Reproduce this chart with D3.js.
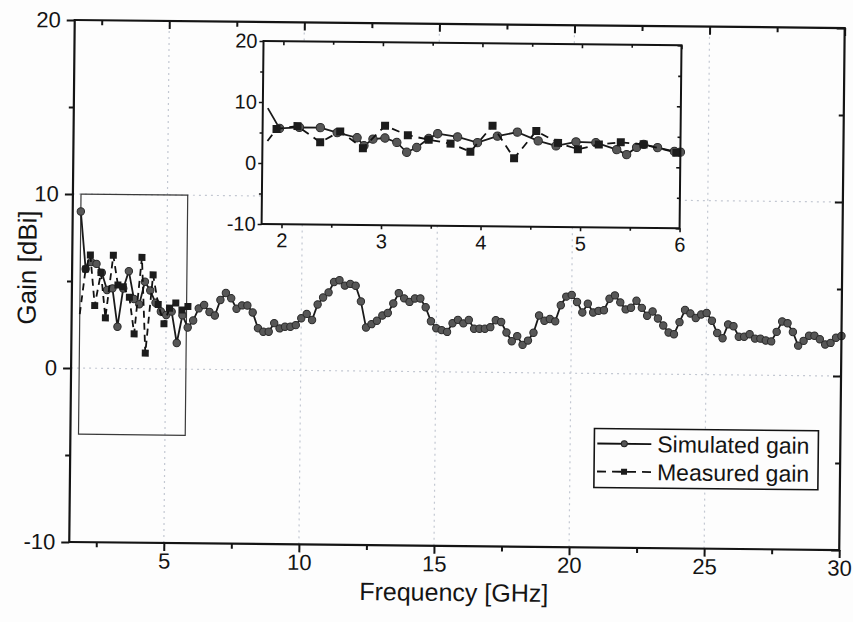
<!DOCTYPE html>
<html>
<head>
<meta charset="utf-8">
<script src="https://cdn.jsdelivr.net/npm/d3@7"></script>
<style>
body { margin: 0; background: #fdfdfd; }
svg { display: block; font-family: "Liberation Sans", Arial, sans-serif; }
</style>
</head>
<body>
<svg id="chart" width="853" height="622"></svg>
<script>
// Simulated gain, sampled every 0.2 GHz from 1.8 GHz
var simStart = 1.8
var simStep = 0.2
var simGain = [
    9.0, 5.7, 6.1, 6.0, 5.5, 4.5, 4.6, 2.4, 4.6, 5.6,
    4.0, 3.7, 5.0, 4.5, 3.8, 3.3, 3.1, 3.3, 1.5, 3.1,
    2.4, 2.8, 3.5, 3.7, 3.3, 3.1, 4.0, 4.4, 4.1, 3.5,
    3.7, 3.7, 3.3, 2.4, 2.2, 2.2, 2.7, 2.4, 2.5, 2.5,
    2.6, 3.0, 3.25, 2.9, 3.8, 4.2, 4.5, 5.1, 5.2, 4.9,
    5.0, 4.9, 4.0, 2.5, 2.7, 2.9, 3.2, 3.35, 3.9, 4.5,
    4.2, 4.0, 4.2, 4.2, 3.7, 2.9, 2.5, 2.4, 2.3, 2.8,
    3.0, 2.8, 3.0, 2.5, 2.5, 2.5, 2.6, 3.0, 2.9, 2.3,
    1.8, 2.1, 1.6, 1.85, 2.3, 3.3, 3.0, 3.1, 2.97, 3.9,
    4.4, 4.5, 4.1, 3.5, 4.0, 3.5, 3.6, 3.64, 4.3, 4.5,
    4.1, 3.7, 3.8, 4.2, 3.8, 3.35, 3.6, 3.2, 2.8, 2.4,
    2.3, 3.0, 3.7, 3.5, 3.25, 3.45, 3.54, 3.1, 2.4, 2.1,
    2.9, 2.8, 2.2, 2.2, 2.35, 2.1, 2.1, 2.0, 1.95, 2.5,
    3.1, 3.0, 2.5, 1.72, 2.0, 2.3, 2.3, 2.1, 1.8, 1.9,
    2.2, 2.3
]
var simFreq = simGain.map(function (d, i) { return Math.round((simStart + i * simStep) * 10) / 10 })

// Measured gain (only 1.8 - 6 GHz)
var measFreq = [1.8, 2.0, 2.17, 2.35, 2.57, 2.75, 3.02, 3.2, 3.4, 3.63, 3.82, 4.08, 4.24, 4.5, 4.7, 4.92, 5.12, 5.35, 5.58, 5.8]
var measGain = [3.1, 5.7, 6.5, 3.6, 5.5, 2.9, 6.5, 4.8, 4.7, 4.1, 2.0, 6.4, 0.9, 5.4, 3.7, 2.6, 3.5, 3.8, 3.4, 3.6]

// Inset curves
var insetSimFreq = [1.85, 1.97, 2.17, 2.38, 2.55, 2.75, 2.82, 2.91, 3.03, 3.15, 3.25, 3.35, 3.47, 3.56, 3.76, 3.96, 4.16, 4.36, 4.57, 4.75, 4.95, 5.15, 5.36, 5.46, 5.56, 5.63, 5.77, 5.94, 6.0]
var insetSimGain = [9.0, 5.7, 5.9, 5.9, 5.1, 4.3, 3.0, 4.1, 4.3, 3.6, 2.0, 2.8, 4.3, 5.1, 4.6, 3.7, 4.8, 5.5, 4.1, 3.3, 4.0, 3.9, 2.8, 2.0, 3.2, 3.7, 3.2, 2.6, 2.5]
var insetMeasFreq = [1.85, 1.94, 2.15, 2.38, 2.58, 2.81, 3.03, 3.26, 3.47, 3.69, 3.89, 4.11, 4.33, 4.55, 4.77, 4.97, 5.18, 5.4, 5.63, 5.96]
var insetMeasGain = [3.6, 5.6, 6.1, 3.5, 5.3, 2.6, 6.3, 4.8, 4.1, 3.5, 2.2, 6.5, 1.2, 5.7, 3.8, 2.8, 3.6, 4.0, 3.7, 2.4]

// Axis ticks
var xTicks = [5, 10, 15, 20, 25, 30]
var xMinor = [2.5, 7.5, 12.5, 17.5, 22.5, 27.5]
var yTicks = [-10, 0, 10, 20]
var yMinor = [-5, 5, 15]
var xGrid = [5, 10, 15, 20, 25]
var yGrid = [0, 10]
var insetXTicks = [2, 3, 4, 5, 6]
var insetXMinor = [2.5, 3.5, 4.5, 5.5]
var zoomBox = [1.8, 5.75, -3.8, 10]

var legendLabels = ["Simulated gain", "Measured gain"]

var ink = "#141414"

var svg = d3.select("#chart")
// the reference is a slightly tilted photo of the page
var root = svg.append("g").attr("transform", "rotate(0.6,455,283)")

var x = d3.scaleLinear().domain([1.5, 30]).range([72, 842])
var y = d3.scaleLinear().domain([-10, 20]).range([546, 24])

var xi = d3.scaleLinear().domain([1.8, 6]).range([261, 679])
var yi = d3.scaleLinear().domain([-10, 20]).range([226, 43])

function frameAxes(g, xs, ys, o) {
    var xr = xs.range(), yr = ys.range()
    var fmt = function (d) { return String(d) }
    function add(axis, tx, ty) {
        var a = g.append("g").attr("transform", "translate(" + tx + "," + ty + ")").call(axis.tickSizeOuter(0))
        a.select(".domain").remove()
        a.selectAll("line").attr("stroke", ink).attr("stroke-width", o.tickW)
        a.selectAll("text").attr("fill", ink).style("font-size", o.font + "px")
        return a
    }
    add(d3.axisBottom(xs).tickValues(o.xMinor).tickSize(o.minor).tickFormat(""), 0, yr[0])
    add(d3.axisBottom(xs).tickValues(o.xTicks).tickSize(o.major).tickPadding(o.xPad).tickFormat(fmt), 0, yr[0])
    add(d3.axisTop(xs).tickValues(o.xMinor).tickSize(-o.minor).tickFormat(""), 0, yr[1])
    add(d3.axisTop(xs).tickValues(o.xTicks).tickSize(-o.major).tickFormat(""), 0, yr[1])
    add(d3.axisLeft(ys).tickValues(o.yMinor).tickSize(o.minor).tickFormat(""), xr[0], 0)
    add(d3.axisLeft(ys).tickValues(o.yTicks).tickSize(o.major).tickPadding(o.yPad).tickFormat(fmt), xr[0], 0)
    add(d3.axisRight(ys).tickValues(o.yMinor).tickSize(-o.minor).tickFormat(""), xr[1], 0)
    add(d3.axisRight(ys).tickValues(o.yTicks).tickSize(-o.major).tickFormat(""), xr[1], 0)
    g.append("rect")
        .attr("x", xr[0]).attr("y", yr[1])
        .attr("width", xr[1] - xr[0]).attr("height", yr[0] - yr[1])
        .attr("fill", "none").attr("stroke", ink).attr("stroke-width", o.frameW)
}

function drawSeries(g, xs, ys, fx, fy, mfx, mfy, o) {
    var line = d3.line().x(function (d) { return xs(d[0]) }).y(function (d) { return ys(d[1]) })
    var sim = fx.map(function (d, i) { return [d, fy[i]] })
    var meas = mfx.map(function (d, i) { return [d, mfy[i]] })

    g.append("path").datum(sim).attr("d", line)
        .attr("fill", "none").attr("stroke", "#1a1a1a").attr("stroke-width", o.lineW)
    g.selectAll(".sim").data(sim.slice(o.skipFirst ? 1 : 0)).enter().append("circle")
        .attr("class", "sim")
        .attr("cx", function (d) { return xs(d[0]) })
        .attr("cy", function (d) { return ys(d[1]) })
        .attr("r", o.r)
        .attr("fill", "#575757").attr("stroke", "#2a2a2a").attr("stroke-width", 1)

    g.append("path").datum(meas).attr("d", line)
        .attr("fill", "none").attr("stroke", "#111").attr("stroke-width", o.lineW)
        .attr("stroke-dasharray", o.dash)
    g.selectAll(".meas").data(meas.slice(1)).enter().append("rect")
        .attr("class", "meas")
        .attr("x", function (d) { return xs(d[0]) - o.sq / 2 })
        .attr("y", function (d) { return ys(d[1]) - o.sq / 2 })
        .attr("width", o.sq).attr("height", o.sq)
        .attr("fill", "#1c1c1c")
}

// grid
root.append("g").selectAll("line").data(xGrid).enter().append("line")
    .attr("x1", function (d) { return x(d) }).attr("x2", function (d) { return x(d) })
    .attr("y1", y(-10)).attr("y2", y(20))
    .attr("stroke", "#c3c8d2").attr("stroke-width", 1.2).attr("stroke-dasharray", "2,4")
root.append("g").selectAll("line").data(yGrid).enter().append("line")
    .attr("y1", function (d) { return y(d) }).attr("y2", function (d) { return y(d) })
    .attr("x1", x(1.5)).attr("x2", x(30))
    .attr("stroke", "#c3c8d2").attr("stroke-width", 1.2).attr("stroke-dasharray", "2,4")

// zoom box
root.append("rect")
    .attr("x", x(zoomBox[0])).attr("y", y(zoomBox[3]))
    .attr("width", x(zoomBox[1]) - x(zoomBox[0])).attr("height", y(zoomBox[2]) - y(zoomBox[3]))
    .attr("fill", "none").attr("stroke", "#3a3a3a").attr("stroke-width", 1.2)

var main = root.append("g")
drawSeries(main, x, y, simFreq, simGain, measFreq, measGain,
    { lineW: 1.8, r: 3.7, sq: 7, dash: "7,5", skipFirst: false })

frameAxes(root.append("g"), x, y, {
    xTicks: xTicks, xMinor: xMinor, yTicks: yTicks, yMinor: yMinor,
    major: 8, minor: 5, xPad: 2, yPad: 6, font: 22, tickW: 2, frameW: 2.2
})

// axis titles
root.append("text")
    .attr("x", 457).attr("y", 601)
    .attr("text-anchor", "middle").attr("fill", ink)
    .style("font-size", "25px")
    .text("Frequency [GHz]")
root.append("text")
    .attr("transform", "translate(36,272) rotate(-90)")
    .attr("text-anchor", "middle").attr("fill", ink)
    .style("font-size", "26px")
    .text("Gain [dBi]")

// inset
var inset = root.append("g")
inset.append("rect")
    .attr("x", xi.range()[0]).attr("y", yi.range()[1])
    .attr("width", xi.range()[1] - xi.range()[0]).attr("height", yi.range()[0] - yi.range()[1])
    .attr("fill", "#fdfdfd")
drawSeries(inset, xi, yi, insetSimFreq, insetSimGain, insetMeasFreq, insetMeasGain,
    { lineW: 1.8, r: 4.2, sq: 8, dash: "8,6", skipFirst: true })
frameAxes(inset, xi, yi, {
    xTicks: insetXTicks, xMinor: insetXMinor, yTicks: yTicks, yMinor: yMinor,
    major: 4, minor: 3, xPad: 5, yPad: 2, font: 20, tickW: 1.6, frameW: 2
})

// legend
var lg = root.append("g").attr("transform", "translate(596,427)")
lg.append("rect").attr("width", 224).attr("height", 59)
    .attr("fill", "#fdfdfd").attr("stroke", ink).attr("stroke-width", 1.6)
var rows = lg.selectAll(".row").data(legendLabels).enter().append("g")
    .attr("class", "row")
    .attr("transform", function (d, i) { return "translate(0," + (15 + i * 28) + ")" })
rows.append("line")
    .attr("x1", 3).attr("x2", 57).attr("y1", 0).attr("y2", 0)
    .attr("stroke", "#111").attr("stroke-width", 1.8)
    .attr("stroke-dasharray", function (d, i) { return i ? "9,6" : null })
rows.filter(function (d, i) { return i === 0 }).append("circle")
    .attr("cx", 30).attr("cy", 0).attr("r", 3).attr("fill", "#555").attr("stroke", "#222")
rows.filter(function (d, i) { return i === 1 }).append("rect")
    .attr("x", 27).attr("y", -3).attr("width", 6).attr("height", 6).attr("fill", "#1c1c1c")
rows.append("text")
    .attr("x", 63).attr("dy", "0.35em").attr("fill", ink)
    .style("font-size", "23px")
    .text(function (d) { return d })
</script>
</body>
</html>
